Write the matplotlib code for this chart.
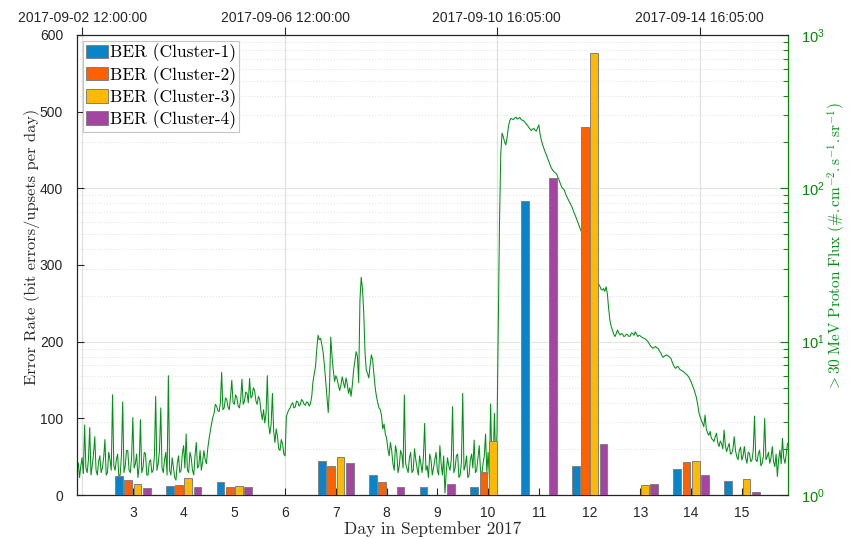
import numpy as np
import matplotlib
matplotlib.use("Agg")
import matplotlib.pyplot as plt
from matplotlib.ticker import LogLocator, NullFormatter

# ---------- data ----------
days = [3, 4, 5, 6, 7, 8, 9, 10, 11, 12, 13, 14, 15]
ber_c1 = [25, 12, 17, 0, 44, 26, 11, 10, 383, 38, 0, 34, 18]
ber_c2 = [20, 13, 10, 0, 38, 17, 0, 30, 0, 480, 0, 43, 0]
ber_c3 = [15, 22, 12, 0, 50, 0, 0, 71, 0, 577, 12.6, 45, 20.5]
ber_c4 = [9, 11, 10, 0, 42, 10, 15, 0, 413, 66, 14, 26, 4]
labels = ["BER (Cluster-1)", "BER (Cluster-2)", "BER (Cluster-3)", "BER (Cluster-4)"]

# >30 MeV proton flux, one reading every 0.025 day starting at day 1.900
flux_t0 = 1.90
flux_dt = 0.025
flux = [
    # 1.900 - 4.425
    1.45, 1.62, 1.30, 1.55, 1.75, 1.38, 2.86, 1.50, 1.40, 1.70,
    2.75, 1.35, 1.55, 1.85, 2.40, 1.45, 1.35, 1.65, 1.80, 1.40,
    1.50, 1.75, 2.30, 1.35, 1.40, 1.90, 1.70, 1.45, 4.50, 1.55,
    1.45, 1.70, 1.85, 1.30, 1.35, 1.80, 4.05, 1.40, 1.55, 1.95,
    1.95, 1.45, 1.40, 1.75, 3.20, 1.50, 1.60, 1.85, 1.30, 1.55,
    3.10, 1.40, 1.50, 1.90, 1.85, 1.35, 1.35, 1.65, 1.70, 1.40,
    1.45, 1.80, 4.40, 1.45, 1.60, 1.95, 3.70, 1.50, 1.40, 1.70,
    1.90, 1.35, 6.00, 1.45, 1.35, 1.75, 1.50, 1.30, 1.25, 1.60,
    1.80, 1.40, 1.45, 1.85, 2.10, 1.50, 2.50, 1.45, 1.40, 1.90,
    1.75, 1.45, 1.35, 1.80, 2.20, 1.50, 1.55, 1.95, 1.45, 1.65,
    1.95, 1.70,
    # 4.450 - 6.000
    1.60, 2.00, 2.30, 2.60, 2.90, 3.20, 3.40, 3.90, 3.80, 3.55,
    3.50, 4.00, 6.30, 3.60, 3.70, 4.30, 4.20, 3.75, 3.60, 4.40,
    5.60, 4.00, 3.90, 4.50, 4.30, 3.80, 3.70, 4.20, 5.70, 3.90,
    4.10, 4.70, 4.60, 4.00, 5.75, 4.30, 4.40, 5.00, 4.80, 4.10,
    3.90, 4.40, 4.20, 3.50, 3.10, 3.60, 2.95, 3.40, 6.00, 2.90,
    2.50, 2.90, 4.60, 2.60, 2.20, 2.70, 2.40, 2.00, 1.95, 2.30,
    2.15, 1.85, 1.80,
    # 6.025 - 8.200
    3.25, 3.45, 3.60, 3.70, 3.90, 4.00, 3.70, 3.75, 4.10, 4.05,
    3.80, 3.90, 4.20, 4.10, 3.90, 3.85, 4.05, 4.00, 3.80, 3.95,
    4.40, 5.50, 6.20, 6.90, 9.00, 11.0, 10.3, 10.5, 9.50, 8.50,
    7.00, 5.50, 4.40, 3.45, 5.00, 10.7, 8.00, 6.50, 5.50, 6.00,
    5.70, 5.20, 4.80, 5.20, 5.90, 5.40, 5.00, 5.80, 5.30, 4.60,
    5.00, 4.40, 5.20, 6.50, 7.50, 8.60, 8.00, 5.40, 18.7, 26.3,
    22.0, 15.3, 8.50, 6.50, 6.20, 5.80, 7.00, 8.20, 7.60, 6.20,
    5.00, 4.40, 4.00, 3.70, 3.60, 3.30, 2.70, 2.90, 2.50, 2.35,
    2.00, 1.80, 2.20, 1.95, 1.60, 1.45, 2.10, 1.90,
    # 8.225 - 10.175
    1.40, 1.55, 1.95, 1.85, 1.50, 4.49, 1.60, 1.50, 1.40, 1.75,
    1.90, 1.40, 1.45, 2.00, 1.70, 1.50, 1.35, 1.80, 1.60, 1.40,
    1.75, 2.93, 1.45, 1.55, 1.30, 1.85, 1.70, 1.35, 1.50, 1.70,
    1.90, 1.45, 1.35, 2.10, 1.60, 1.35, 1.80, 1.03, 1.40, 1.75,
    1.55, 1.45, 1.70, 3.77, 1.40, 1.50, 1.80, 1.85, 1.30, 1.35,
    1.65, 4.60, 1.45, 1.55, 1.80, 1.30, 1.35, 1.70, 1.85, 1.50,
    2.28, 1.40, 1.45, 1.75, 2.10, 1.45, 1.35, 1.60, 1.80, 2.50,
    1.40, 1.90, 1.30, 3.92, 1.55, 1.70, 3.41, 1.60, 2.50,
    # 10.200 - 12.600
    12.0, 60.0, 169, 229, 217, 200, 192, 215, 252, 275,
    286, 283, 281, 288, 291, 283, 286, 290, 281, 278,
    276, 270, 263, 258, 250, 244, 238, 243, 246, 240,
    236, 248, 259, 225, 206, 192, 182, 172, 165, 156,
    149, 141, 135, 131, 128, 126, 124, 118, 113, 107,
    102, 99.5, 97.6, 92.5, 88.3, 85.0, 81.9, 78.5, 75.9, 72.0,
    68.7, 65.5, 62.2, 59.0, 56.3, 53.5, 50.9, 46.0, 41.7, 37.5,
    34.1, 31.5, 29.3, 28.2, 27.2, 26.0, 25.2, 24.2, 23.4, 23.8,
    23.1, 22.0, 21.7, 22.2, 21.3, 22.8, 20.5, 16.5, 13.8, 12.6,
    11.9, 11.2, 10.8, 11.3, 11.9, 11.4, 11.05,
    # 12.625 - 15.900
    11.3, 11.2, 10.8, 10.9, 11.2, 11.1, 10.8, 10.9, 11.4, 11.3,
    11.0, 11.6, 11.2, 10.8, 11.0, 10.9, 10.7, 10.6, 10.5, 10.4,
    10.2, 10.0, 9.70, 9.40, 9.20, 9.05, 9.20, 9.30, 9.10, 9.05,
    8.70, 8.48, 8.10, 7.90, 8.05, 8.15, 8.20, 8.05, 7.95, 7.80,
    7.40, 7.05, 6.80, 6.70, 6.90, 6.85, 6.60, 6.53, 6.45, 6.37,
    6.25, 6.15, 6.05, 5.91, 5.70, 5.48, 5.20, 4.96, 4.65, 4.38,
    4.00, 3.50, 3.25, 3.08, 2.95, 2.79, 3.32, 2.70, 2.53, 2.45,
    2.60, 2.34, 2.30, 2.23, 2.40, 2.53, 2.20, 2.07, 2.25, 2.17,
    2.00, 2.65, 2.10, 1.92, 2.05, 2.17, 1.85, 1.87, 2.00, 2.40,
    1.95, 1.78, 1.70, 1.96, 2.05, 1.69, 1.80, 2.07, 1.75, 1.61,
    1.90, 1.87, 1.65, 1.69, 1.95, 3.27, 1.70, 1.65, 1.85, 1.96,
    1.55, 1.61, 1.80, 3.16, 1.70, 1.78, 1.90, 1.61, 1.75, 2.07,
    1.65, 1.53, 1.85, 1.32, 1.70, 1.96, 1.60, 2.34, 1.75, 1.61,
    1.85, 2.17,
]

top_tick_pos = [2.0, 6.0, 10.1701, 14.1701]
top_tick_labels = ["2017-09-02 12:00:00", "2017-09-06 12:00:00",
                   "2017-09-10 16:05:00", "2017-09-14 16:05:00"]

# ---------- style ----------
plt.rcParams["font.family"] = ["Liberation Sans", "DejaVu Sans"]
plt.rcParams["mathtext.fontset"] = "custom"
plt.rcParams["mathtext.rm"] = "Liberation Sans"
plt.rcParams["mathtext.it"] = "Liberation Sans:italic"
plt.rcParams["mathtext.bf"] = "Liberation Sans:bold"

bar_colors = ["#0884c9", "#ff6100", "#ffb900", "#a446a1"]
bar_edge = "#808080"
green = "#009114"
axis_green = "#008a00"
dark = "#262626"
serif = "cmr10"

fig = plt.figure(figsize=(8.51, 5.39), dpi=100)
ax = fig.add_axes([0.0905, 0.0816, 0.8355, 0.8535])
ax_flux = ax.twinx()
ax_top = ax.twiny()
ax_flux.set_zorder(1)
ax_top.set_zorder(2)
ax.set_zorder(3)
ax.patch.set_visible(False)

# —— proton flux (right / log axis) ——
flux_days = flux_t0 + flux_dt * np.arange(len(flux))
ax_flux.plot(flux_days, flux, color=green, lw=0.75, zorder=2)
ax_flux.set_yscale("log")
ax_flux.set_ylim(1, 1000)
ax_flux.yaxis.set_major_locator(LogLocator(base=10))
ax_flux.yaxis.set_minor_locator(LogLocator(base=10, subs=np.arange(2, 10)))
ax_flux.yaxis.set_minor_formatter(NullFormatter())
ax_flux.grid(which="major", axis="y", color="#dfe7df", lw=0.8)
ax_flux.grid(which="minor", axis="y", color="#e4e4e4", lw=0.8, ls=":")
for t in top_tick_pos:
    ax_flux.axvline(t, color="#e0e0e0", lw=0.9, zorder=0.5)
ax_flux.tick_params(axis="y", which="major", direction="in", length=6,
                    width=0.8, colors=axis_green, labelsize=10.5, pad=9)
ax_flux.tick_params(axis="y", which="minor", direction="in", length=3.5,
                    width=0.7, colors=axis_green)
for s in ("left", "top", "bottom"):
    ax_flux.spines[s].set_visible(False)
ax_flux.spines["right"].set_color(axis_green)
ax_flux.spines["right"].set_linewidth(0.9)
ax_flux.set_ylabel(
    r"$>30\ \mathrm{MeV\ Proton\ Flux}\ (\#.\mathrm{cm}^{-2}.\mathrm{s}^{-1}.\mathrm{sr}^{-1})$",
    color=green, fontsize=11, math_fontfamily="cm",
)
ax_flux.yaxis.set_label_coords(1.053, 0.54)

# —— BER bars (left axis) ——
x = np.array(days, dtype=float)
group_step = 0.182
bar_width = 0.15
series = [ber_c1, ber_c2, ber_c3, ber_c4]
for k, (vals, col, lab) in enumerate(zip(series, bar_colors, labels)):
    ax.bar(x + (k - 1.5) * group_step, vals, width=bar_width, color=col,
           edgecolor=bar_edge, linewidth=0.7, label=lab, zorder=3)

ax.set_xlim(1.9, 15.91)
ax.set_ylim(0, 600)
ax.set_xticks(days)
ax.set_yticks(np.arange(0, 601, 100))
ax.tick_params(axis="both", direction="in", length=5, width=0.8,
               colors=dark, labelsize=10)
ax.tick_params(axis="y", pad=10)
ax.tick_params(axis="x", pad=8)
ax.spines["right"].set_visible(False)
ax.spines["top"].set_visible(False)
for s in ("left", "bottom"):
    ax.spines[s].set_color(dark)
    ax.spines[s].set_linewidth(0.9)
ax.set_xlabel("Day in September 2017", fontfamily=serif, fontsize=12.5,
              color=dark, labelpad=1)
ax.set_ylabel("Error Rate (bit errors/upsets per day)", fontfamily=serif,
              fontsize=11.8, color=dark)
ax.yaxis.set_label_coords(-0.052, 0.54)

leg = ax.legend(loc="upper left", prop={"family": serif, "size": 12.5},
                frameon=True, fancybox=False, framealpha=1,
                edgecolor="#c4c4c4", borderpad=0.15, borderaxespad=0.35,
                handlelength=1.3, handleheight=0.8, handletextpad=0.1,
                labelspacing=0.2)
leg.get_frame().set_linewidth(0.8)

# —— top date axis ——
ax_top.set_xlim(ax.get_xlim())
ax_top.set_xticks(top_tick_pos)
ax_top.set_xticklabels(top_tick_labels)
ax_top.tick_params(axis="x", direction="out", length=6, width=0.8,
                   colors=dark, labelsize=10, pad=1.5)
for s in ("left", "right", "bottom"):
    ax_top.spines[s].set_visible(False)
ax_top.spines["top"].set_color(dark)
ax_top.spines["top"].set_linewidth(0.9)

fig.savefig("out.png", dpi=100, facecolor="white")
